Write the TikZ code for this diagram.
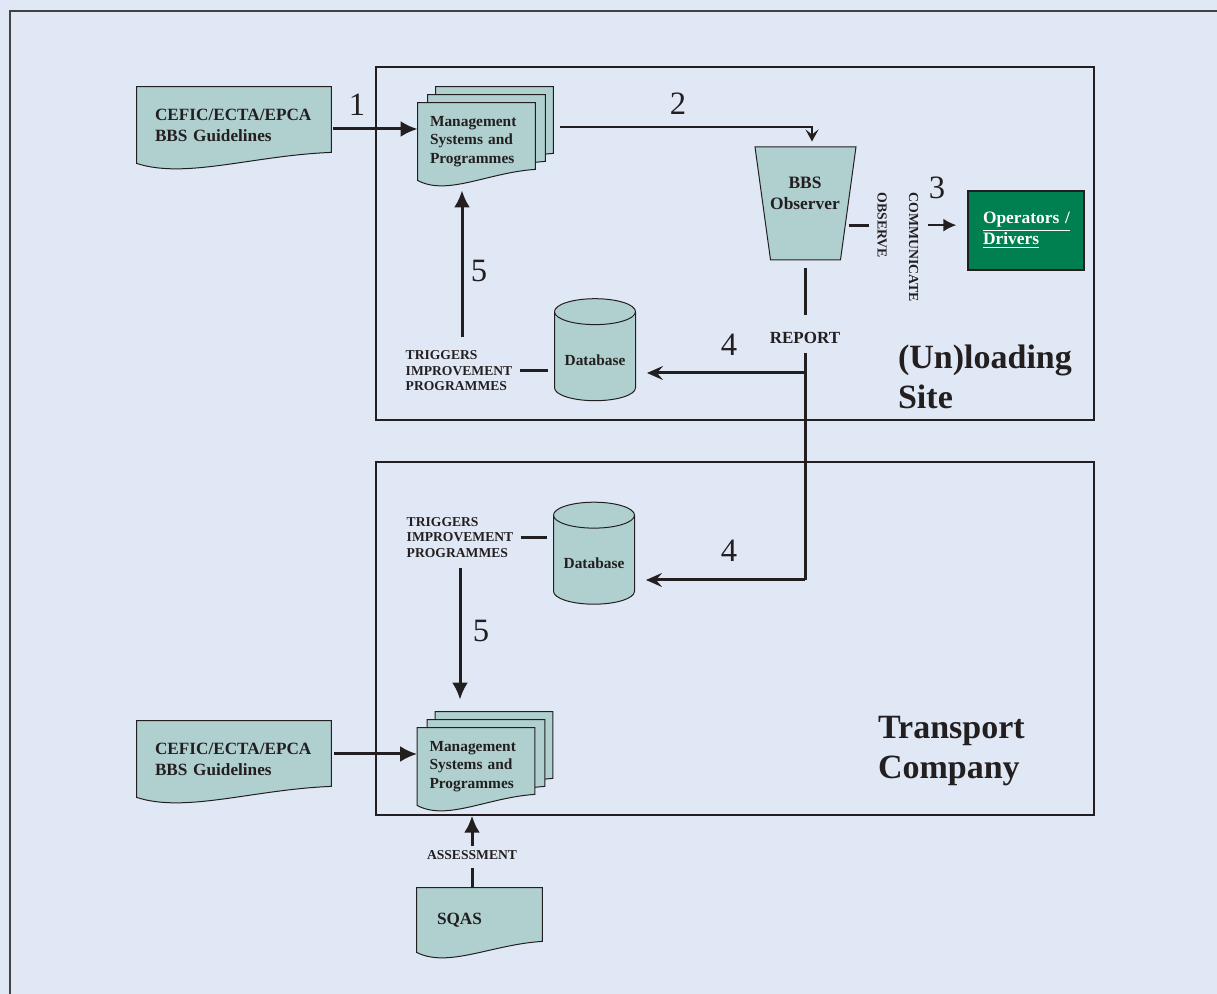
\documentclass[tikz,border=0pt]{standalone}
\usepackage{fontspec}
\setmainfont{Liberation Serif}
\usetikzlibrary{arrows.meta,shapes.geometric,calc}
\definecolor{pagebg}{RGB}{225,232,245}
\definecolor{docfill}{RGB}{176,208,208}
\definecolor{opgreen}{RGB}{0,128,80}
\definecolor{ink}{RGB}{35,31,32}
\pgfdeclarelayer{back}
\pgfdeclarelayer{shapes}
\pgfsetlayers{back,shapes,main}
\newcommand{\docpage}[1]{%
  \filldraw[docline] (#1.south west) -- (#1.north west) -- (#1.north east)
    -- ([yshift=5.5pt]#1.south east)
    .. controls ($(#1.south east)!0.4!(#1.south west)+(0,4pt)$)
    and ($(#1.south east)!0.75!(#1.south west)+(0,-8pt)$) .. (#1.south west) -- cycle;}

\begin{document}
\begin{tikzpicture}[x=0.5pt,y=-0.5pt]
  \tikzstyle{every node}=[text=ink]
  \tikzstyle{docline}=[draw=ink,fill=docfill,line width=0.5pt]
  \tikzstyle{guide}=[rectangle,align=left,minimum height=38pt,inner xsep=9pt,text width=79pt,font=\bfseries\fontsize{8.6}{10.5}\selectfont]
  \tikzstyle{page}=[rectangle,align=left,minimum height=38.5pt,inner xsep=6pt,text width=46.5pt,font=\bfseries\fontsize{7.7}{9.25}\selectfont]
  \tikzstyle{dbase}=[cylinder,shape border rotate=90,aspect=0.35,draw=ink,fill=docfill,line width=0.5pt,minimum width=40.5pt,minimum height=51pt,font=\bfseries\fontsize{7.7}{9}\selectfont]
  \tikzstyle{observer}=[trapezium,shape border rotate=180,trapezium left angle=77.5,trapezium right angle=77.5,trapezium stretches=true,draw=ink,fill=docfill,line width=0.5pt,minimum width=50.5pt,minimum height=56.5pt]
  \tikzstyle{ops}=[rectangle,draw=ink,fill=opgreen,line width=0.6pt,minimum height=39.5pt,inner xsep=7.5pt,text width=43pt,align=left,text=white,font=\bfseries\fontsize{8.7}{10.5}\selectfont]
  \tikzstyle{area}=[rectangle,draw=ink,line width=0.7pt,minimum width=359pt,minimum height=176.5pt]
  \tikzstyle{areaname}=[align=left,anchor=west,font=\bfseries\fontsize{17}{20}\selectfont]
  \tikzstyle{num}=[font=\fontsize{16.3}{18}\selectfont]
  \tikzstyle{smalltext}=[align=left,inner sep=2pt,font=\bfseries\fontsize{6.8}{7.75}\selectfont]
  \tikzstyle{vtext}=[rotate=-90,anchor=west,inner sep=1pt,font=\bfseries\fontsize{6.9}{8}\selectfont]
  \tikzstyle{conn}=[draw=ink,line width=1.5pt]
  \tikzstyle{bigtip}=[conn,-{Latex[length=8.5pt,width=8pt]}]
  \tikzstyle{midtip}=[conn,-{Stealth[length=8pt,width=7pt,inset=3pt]}]

  \useasboundingbox (0,0) rectangle (1217,994);
  \begin{pgfonlayer}{back}
    \fill[pagebg] (0,0) rectangle (1217,994);
  \end{pgfonlayer}
  \draw[ink!85,line width=1.2pt] (10,994) -- (10,11) -- (1217,11);

  \node[area] (sitebox) at (735,243.5) {};
  \node[area] (tbox) at (735,638.5) {};
  \node[areaname] (sitename) at (891,377) {(Un)loading\\Site};
  \node[areaname] (tname) at (871,751) {Transport\\Company};

  \node[guide] (cef1) at (234,125) {CEFIC/ECTA/EPCA\\BBS Guidelines};
  \node[page] (mgmt1) at (476.5,141.5) {Management\\Systems and\\Programmes};
  \node[page] (mgmtb1) at ([xshift=5pt,yshift=4pt]mgmt1.center) {};
  \node[page] (mgmtc1) at ([xshift=9pt,yshift=8pt]mgmt1.center) {};
  \node[observer] (obs) at (805.5,203.5) {};
  \node[align=center,font=\bfseries\fontsize{8.7}{10.5}\selectfont] (obstext) at (805,193) {BBS\\Observer};
  \node[vtext] (observe) at (882,190) {OBSERVE};
  \node[vtext] (comm) at (913.5,190) {COMMUNICATE};
  \node[ops] (ops) at (1026,230.5) {\underline{Operators /}\\\underline{Drivers}};
  \node[dbase] (db1) at (595,360) {Database};
  \node[smalltext] (trig1) at (459,371) {TRIGGERS\\IMPROVEMENT\\PROGRAMMES};
  \node[font=\bfseries\fontsize{8.5}{10}\selectfont] (report) at (805,338) {REPORT};

  \node[dbase] (db2) at (594,563.5) {Database};
  \node[smalltext] (trig2) at (460,537.5) {TRIGGERS\\IMPROVEMENT\\PROGRAMMES};
  \node[guide] (cef2) at (234,759) {CEFIC/ECTA/EPCA\\BBS Guidelines};
  \node[page] (mgmt2) at (476,766.5) {Management\\Systems and\\Programmes};
  \node[page] (mgmtb2) at ([xshift=5pt,yshift=4pt]mgmt2.center) {};
  \node[page] (mgmtc2) at ([xshift=9pt,yshift=8pt]mgmt2.center) {};
  \node[smalltext] (assess) at (472,855) {ASSESSMENT};
  \node[guide,minimum height=32pt,inner xsep=10pt,text width=42.5pt] (sqas) at (479.5,920) {SQAS};

  \begin{pgfonlayer}{shapes}
    \docpage{cef1}
    \docpage{mgmtc1}
    \docpage{mgmtb1}
    \docpage{mgmt1}
    \docpage{cef2}
    \docpage{mgmtc2}
    \docpage{mgmtb2}
    \docpage{mgmt2}
    \docpage{sqas}
  \end{pgfonlayer}

  \node[num] (n1) at (357,105) {1};
  \node[num] (n2) at (678,104) {2};
  \node[num] (n3) at (937,188) {3};
  \node[num] (n4a) at (729,345) {4};
  \node[num] (n4b) at (729,551) {4};
  \node[num] (n5a) at (479,271) {5};
  \node[num] (n5b) at (481,631) {5};

  \coordinate (j1) at (805,373);
  \coordinate (j2) at (805,580);

  \draw[bigtip,shorten <=1pt] ([yshift=-2pt]cef1.east) -- ([yshift=-2pt]cef1.east -| mgmt1.west);
  \draw[conn,line width=1.1pt,-{Stealth[length=6pt,width=6.5pt,inset=2.5pt]}] ([xshift=3.5pt,yshift=-0.75pt]mgmtc1.east) -| ([xshift=3.25pt,yshift=2.5pt]obs.north);
  \draw[conn,shorten >=3pt] (obs.east |- observe.south) -- (observe.south);
  \draw[conn,line width=1.1pt,-{Latex[length=6.5pt,width=6.5pt]},shorten <=3.5pt,shorten >=5.5pt] (comm.north |- observe.south) -- (ops.west |- observe.south);
  \draw[conn,shorten <=3.5pt,shorten >=5pt] (report.north |- obs.south) -- (report.north);
  \draw[conn,shorten <=1pt] (report.south) -- (j2);
  \draw[midtip,shorten >=5.5pt] (j1) -- (j1 -| db1.east);
  \draw[midtip,shorten >=5.5pt] (j2) -- (j2 -| db2.east);
  \draw[conn,shorten <=1.5pt,shorten >=3pt] (trig1.east) -- (trig1.east -| db1.west);
  \draw[bigtip,shorten <=5pt,shorten >=5pt] ([xshift=1.5pt]trig1.north) -- ([xshift=1.5pt]trig1.north |- mgmt1.south);
  \draw[conn,shorten <=1.5pt,shorten >=3pt] (trig2.east) -- (trig2.east -| db2.west);
  \draw[bigtip,shorten <=3pt,shorten >=6pt] (trig2.south) -- (trig2.south |- mgmtc2.north);
  \draw[bigtip,shorten <=1.5pt] ([yshift=2.5pt]cef2.east) -- ([yshift=2.5pt]cef2.east -| mgmt2.west);
  \draw[conn,shorten >=2pt] (assess.south |- sqas.north) -- (assess.south);
  \draw[bigtip] (assess.north) -- (assess.north |- tbox.south);
\end{tikzpicture}
\end{document}
